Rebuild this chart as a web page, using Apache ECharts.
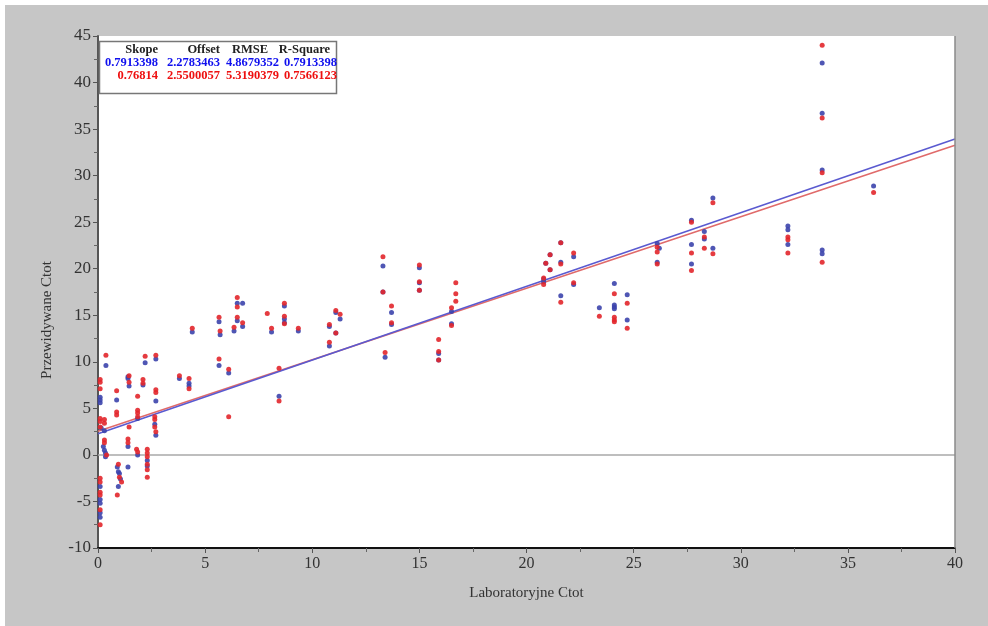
<!DOCTYPE html>
<html>
<head>
<meta charset="utf-8">
<script src="https://cdn.jsdelivr.net/npm/echarts@6/dist/echarts.min.js"></script>
<style>
html,body{margin:0;padding:0;background:#fff;}
#main{width:988px;height:626px;background:linear-gradient(#c6c6c6,#c6c6c6) 5px 5px / 983px 621px no-repeat,#fff;}
</style>
</head>
<body>
<div id="main"></div>
<script>
// Regression table
const tableHeader = ['Skope', 'Offset', 'RMSE', 'R-Square'];
const blueStats = ['0.7913398', '2.2783463', '4.8679352', '0.7913398'];
const redStats = ['0.76814', '2.5500057', '5.3190379', '0.7566123'];
const blueSlope = 0.7913398, blueOffset = 2.2783463;
const redSlope = 0.76814, redOffset = 2.5500057;
const lineRange = [0, 40];

// Blue series (lab value, predicted value)
const blueLab = [0.37,0.1,0.1,0.1,0.15,0.3,0.25,0.3,0.35,0.35,0.1,0.1,0.1,0.1,0.1,
  0.87,0.9,0.95,1.0,1.05,0.95,
  1.4,1.4,1.45,1.4,1.4,
  1.85,1.85,
  2.2,2.1,2.3,2.3,
  2.7,2.7,2.65,2.7,
  3.8,4.25,4.25,4.4,
  5.65,5.7,5.65,6.1,6.35,6.5,6.5,6.75,6.75,
  8.1,8.45,8.7,8.7,8.7,9.35,
  10.8,10.8,11.1,11.3,11.1,
  13.3,13.3,13.4,13.7,13.7,
  15.0,15.0,15.0,15.9,15.9,16.5,16.5,
  20.8,20.8,20.9,21.1,21.1,21.6,21.6,21.6,22.2,22.2,
  23.4,24.1,24.1,24.1,24.1,24.7,24.7,
  26.1,26.1,26.2,27.7,27.7,27.7,28.3,28.3,28.7,28.7,
  32.2,32.2,32.2,33.8,33.8,33.8,33.8,33.8,36.2];
const bluePred = [9.6,6.2,5.9,5.6,2.9,2.6,0.9,0.5,0.2,-0.2,-3.4,-4.8,-5.2,-6.2,-6.7,
  5.9,-1.3,-1.8,-2.0,-2.6,-3.4,
  8.4,8.2,7.4,0.9,-1.3,
  3.9,0.0,
  9.9,7.5,-0.6,-1.2,
  10.3,5.8,3.3,2.1,
  8.2,7.7,7.4,13.2,
  14.3,12.9,9.6,8.8,13.3,16.3,14.4,16.3,13.8,
  13.2,6.3,16.0,14.6,14.2,13.3,
  13.8,11.7,15.3,14.6,13.1,
  20.3,17.5,10.5,15.3,14.0,
  20.1,18.5,17.7,10.9,10.2,15.4,14.1,
  18.9,18.6,20.6,21.5,19.9,22.8,20.7,17.1,21.3,18.3,
  15.8,18.4,16.1,15.9,15.7,17.2,14.5,
  22.7,20.7,22.2,25.2,22.6,20.5,24.0,23.2,27.6,22.2,
  24.6,24.2,22.6,42.1,36.7,30.6,22.0,21.6,28.9];

// Red series (lab value, predicted value)
const redLab = [0.37,0.1,0.1,0.1,0.1,0.1,0.3,0.3,0.3,0.3,0.4,0.1,0.1,0.1,0.1,0.1,0.1,0.1,
  0.87,0.87,0.87,0.95,1.0,1.1,0.9,
  1.45,1.45,1.45,1.4,1.4,
  1.85,1.85,1.85,1.85,1.8,1.85,
  2.2,2.1,2.1,2.3,2.3,2.3,2.3,2.3,2.3,
  2.7,2.7,2.7,2.65,2.65,2.65,2.7,
  3.8,4.25,4.25,4.4,
  5.65,5.7,5.65,6.1,6.1,6.35,6.5,6.5,6.5,6.75,
  7.9,8.1,8.45,8.45,8.7,8.7,8.7,9.35,
  10.8,10.8,11.1,11.1,11.3,
  13.3,13.3,13.4,13.7,13.7,
  15.0,15.0,15.0,15.9,15.9,15.9,16.5,16.5,16.7,16.7,16.7,
  20.8,20.8,20.9,21.1,21.1,21.6,21.6,21.6,22.2,22.2,
  23.4,24.1,24.1,24.1,24.1,24.7,24.7,
  26.1,26.1,26.1,27.7,27.7,27.7,28.3,28.3,28.7,28.7,
  32.2,32.2,32.2,33.8,33.8,33.8,33.8,36.2];
const redPred = [10.7,8.1,7.8,7.1,3.9,3.6,3.8,3.4,1.6,1.3,0.0,-2.5,-2.9,-4.0,-4.3,-5.9,-7.5,3.0,
  6.9,4.6,4.3,-1.0,-2.4,-2.9,-4.3,
  8.5,7.8,3.0,1.7,1.3,
  6.3,4.8,4.5,4.1,0.6,0.3,
  10.6,8.1,7.7,0.6,0.2,-0.2,-1.0,-1.6,-2.4,
  10.7,7.0,6.7,4.1,3.8,3.0,2.5,
  8.5,8.2,7.1,13.6,
  14.8,13.3,10.3,9.2,4.1,13.7,16.9,15.9,14.8,14.2,
  15.2,13.6,9.3,5.8,16.3,14.9,14.1,13.6,
  14.0,12.1,15.5,13.1,15.1,
  21.3,17.5,11.0,16.0,14.2,
  20.4,18.6,17.7,12.4,11.1,10.2,15.8,13.9,18.5,17.3,16.5,
  19.0,18.3,20.6,21.5,19.9,22.8,20.5,16.4,21.7,18.5,
  14.9,17.3,14.8,14.5,14.3,16.3,13.6,
  21.8,20.5,22.3,25.0,21.7,19.8,23.4,22.2,27.1,21.6,
  23.4,23.1,21.7,44.0,36.2,30.3,20.7,28.2];

const xTicks = {min: 0, max: 40, interval: 5};
const yTicks = {min: -10, max: 45, interval: 5};

const zip = (a, b) => a.map((v, i) => [v, b[i]]);
const fitLine = (s, o) => lineRange.map(x => [x, s * x + o]);

const BLUE_PT = '#3c44ac', RED_PT = '#e2262b';
const serif = 'Liberation Serif';

const G = {left: 98, right: 33, top: 36, bottom: 78};
const tableGraphics = [];
const colRight = [[158, 220, 268, 330], [158, 220, 279, 337]];
const rowY = [50, 63, 76];
const rows = [[tableHeader, '#222', 0], [blueStats, '#1010ee', 1], [redStats, '#ee1010', 1]];
rows.forEach(([texts, color, c], r) => {
  texts.forEach((t, i) => {
    tableGraphics.push({
      type: 'text', x: colRight[c][i], y: rowY[r], z: 101,
      style: {text: t, fill: color, font: 'bold 12.5px "' + serif + '"', textAlign: 'right', textVerticalAlign: 'middle'}
    });
  });
});

const chart = echarts.init(document.getElementById('main'), null, {renderer: 'canvas'});
chart.setOption({
  backgroundColor: 'transparent',
  animation: false,
  grid: {left: G.left, right: G.right, top: G.top, bottom: G.bottom, show: true, backgroundColor: '#fff', borderWidth: 0},
  xAxis: {
    type: 'value', min: xTicks.min, max: xTicks.max, interval: xTicks.interval,
    name: 'Laboratoryjne Ctot', nameLocation: 'middle', nameGap: 38,
    nameTextStyle: {fontFamily: serif, fontSize: 15, color: '#333'},
    axisLine: {show: true, onZero: false, lineStyle: {color: '#111', width: 2}},
    axisTick: {show: true, length: 5, lineStyle: {color: '#555'}},
    minorTick: {show: true, splitNumber: 2, length: 4, lineStyle: {color: '#666'}},
    splitLine: {show: false},
    axisLabel: {fontFamily: serif, fontSize: 16, color: '#333', margin: 8}
  },
  yAxis: {
    type: 'value', min: yTicks.min, max: yTicks.max, interval: yTicks.interval,
    axisLine: {show: true, onZero: false, lineStyle: {color: '#555', width: 2}},
    axisTick: {show: true, length: 5, lineStyle: {color: '#555'}},
    minorTick: {show: true, splitNumber: 2, length: 4, lineStyle: {color: '#666'}},
    splitLine: {show: false},
    axisLabel: {fontFamily: serif, fontSize: 17, color: '#333', margin: 7}
  },
  graphic: [
    {type: 'line', shape: {x1: 955, y1: 36, x2: 955, y2: 548}, style: {stroke: '#8a8a8a', lineWidth: 1.5}, z: 100},
    {type: 'rect', shape: {x: 99.5, y: 41.5, width: 237, height: 52}, style: {fill: '#fff', stroke: '#777', lineWidth: 1.5}, z: 100},
    {type: 'text', x: 47, y: 320, rotation: Math.PI / 2, z: 100,
      style: {text: 'Przewidywane Ctot', fill: '#333', font: '15px "' + serif + '"', textAlign: 'center', textVerticalAlign: 'middle'}},
    ...tableGraphics
  ],
  series: [
    {type: 'line', data: [[xTicks.min, 0], [xTicks.max, 0]], symbol: 'none', silent: true,
      lineStyle: {color: '#a8a8a8', width: 1.5}, z: 1},
    {type: 'line', data: fitLine(redSlope, redOffset), symbol: 'none', silent: true,
      lineStyle: {color: '#e06a6a', width: 1.6}, z: 3},
    {type: 'line', data: fitLine(blueSlope, blueOffset), symbol: 'none', silent: true,
      lineStyle: {color: '#5a5ad0', width: 1.6}, z: 3},
    {type: 'scatter', data: zip(blueLab, bluePred), symbol: 'circle', symbolSize: 5,
      itemStyle: {color: BLUE_PT, opacity: 0.9}, z: 4},
    {type: 'scatter', data: zip(redLab, redPred), symbol: 'circle', symbolSize: 5,
      itemStyle: {color: RED_PT, opacity: 0.9}, z: 5}
  ]
});
</script>
</body>
</html>
